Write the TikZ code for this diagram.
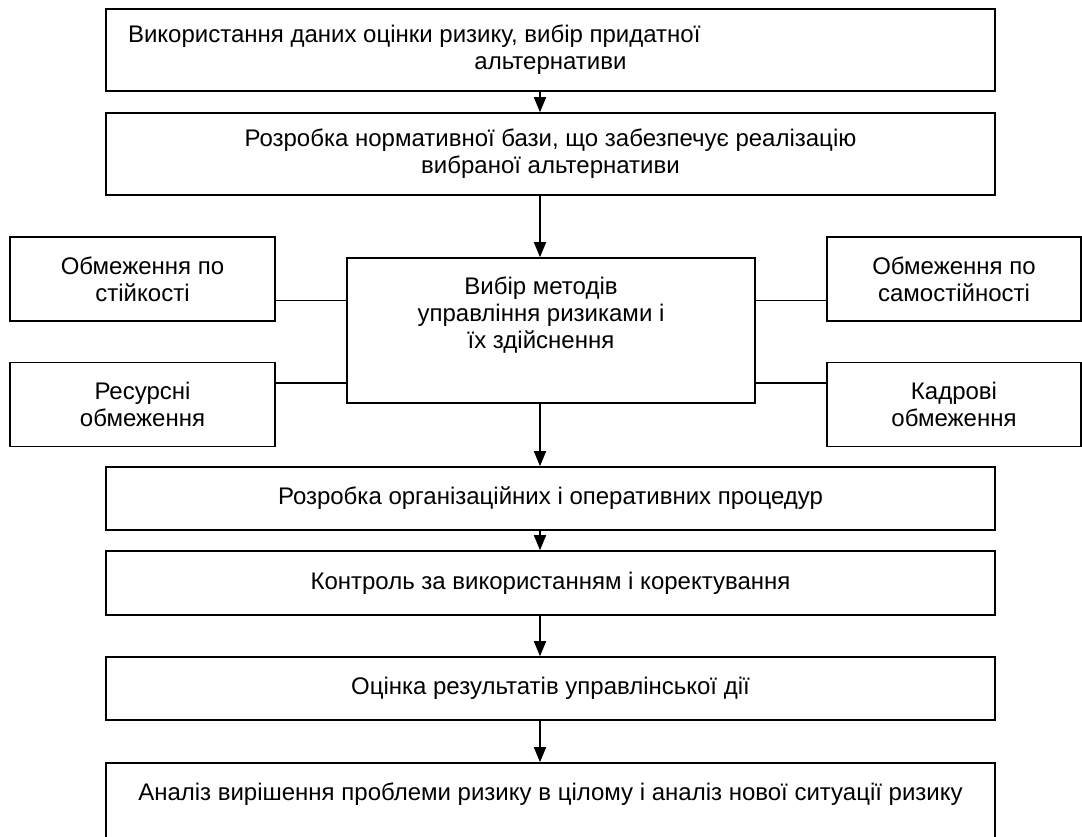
\documentclass[tikz,border=0pt]{standalone}
\usepackage{fontspec}
\setmainfont{Liberation Sans}
\usepackage{tikz}
\usetikzlibrary{calc,arrows.meta}
\tikzstyle{stepbox}=[rectangle,draw=black,fill=white,line width=1.6pt,
                     font=\fontsize{24}{27}\selectfont,inner sep=0pt]
\tikzstyle{mainbox}=[stepbox,minimum width=889pt]
\tikzstyle{sidebox}=[stepbox,minimum height=84pt]
\tikzstyle{flow}=[line width=1.6pt,-{Triangle[length=15pt,width=12pt]}]
\tikzstyle{link}=[line width=1.6pt]
\newcommand\steplabel[2][845pt]{\parbox{#1}{\centering #2}}
\newcommand\mainx{550.5}
\newcommand\spinex{540}

\begin{document}
\begin{tikzpicture}[x=1pt,y=-1pt]
    \useasboundingbox (0,0) rectangle (1082,837);
    \coordinate (spine) at (\spinex,0);
    	\node [mainbox,minimum height=82pt] (use) at ($(\mainx,50)$) {
    		\parbox{845pt}{Використання даних оцінки ризику, вибір придатної\par
    		\centering альтернативи}
    	};
    	\node [mainbox,minimum height=82pt] (norm) at ($(\mainx,154)$) {
    		\steplabel{Розробка нормативної бази, що забезпечує реалізацію\\ вибраної альтернативи}
    	};
    	\node [stepbox,minimum width=408pt,minimum height=145pt,text depth=62pt] (choice) at ($(551,330.5)$) {
    		\steplabel[380pt]{\hspace*{-20pt}Вибір методів\\ \hspace*{-20pt}управління ризиками і\\ \hspace*{-20pt}їх здійснення}
    	};
    	\node [sidebox,minimum width=265pt] (stab) at ($(142.5,279)$) {
    		\steplabel[240pt]{Обмеження по\\ стійкості}
    	};
    	\node [sidebox,minimum width=265pt] (res) at ($(142.5,404.5)$) {
    		\steplabel[240pt]{Ресурсні\\ обмеження}
    	};
    	\node [sidebox,minimum width=254pt] (indep) at ($(954,279)$) {
    		\steplabel[240pt]{Обмеження по\\ самостійності}
    	};
    	\node [sidebox,minimum width=254pt] (staff) at ($(954,404.5)$) {
    		\steplabel[240pt]{Кадрові\\ обмеження}
    	};
    	\node [mainbox,minimum height=63pt] (proc) at ($(\mainx,498.5)$) {
    		\steplabel{Розробка організаційних і оперативних процедур}
    	};
    	\node [mainbox,minimum height=64pt] (ctrl) at ($(\mainx,583)$) {
    		\steplabel{Контроль за використанням і коректування}
    	};
    	\node [mainbox,minimum height=63pt] (eval) at ($(\mainx,688.5)$) {
    		\steplabel{Оцінка результатів управлінської дії}
    	};
    	\node [mainbox,minimum height=82pt,text depth=24pt] (anal) at ($(\mainx,804)$) {
    		\steplabel{Аналіз вирішення проблеми ризику в цілому і аналіз нової ситуації ризику}
    	};
    \draw [flow] (use.south -| spine) -- (norm.north -| spine);
    \draw [flow] (norm.south -| spine) -- (choice.north -| spine);
    \draw [flow] (choice.south -| spine) -- (proc.north -| spine);
    \draw [flow] (proc.south -| spine) -- (ctrl.north -| spine);
    \draw [flow] (ctrl.south -| spine) -- (eval.north -| spine);
    \draw [flow] (eval.south -| spine) -- (anal.north -| spine);
    \coordinate (stab link) at ($(stab.south east)!0.25!(stab.north east)$);
    \coordinate (res link) at ($(res.north east)!0.25!(res.south east)$);
    \coordinate (indep link) at ($(indep.south west)!0.25!(indep.north west)$);
    \coordinate (staff link) at ($(staff.north west)!0.25!(staff.south west)$);
    \draw [link] (stab link) -- (stab link -| choice.west);
    \draw [link] (res link) -- (res link -| choice.west);
    \draw [link] (indep link) -- (indep link -| choice.east);
    \draw [link] (staff link) -- (staff link -| choice.east);
    \end{tikzpicture}
\end{document}
